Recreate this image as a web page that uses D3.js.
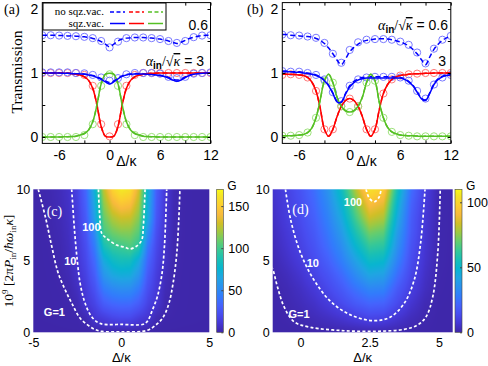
<!DOCTYPE html>
<html><head><meta charset="utf-8">
<script src="https://cdn.jsdelivr.net/npm/d3@7"></script>
<style>body{margin:0;background:#fff}svg{display:block}</style>
</head><body>
<svg id="fig" width="488" height="366"></svg>
<script>
// ---------------- DATA ----------------
const deltaLine = [-8,-7.5,-7,-6.5,-6,-5.5,-5,-4.5,-4,-3.5,-3,-2.5,-2,-1.5,-1,-0.5,0,0.5,1,1.5,2,2.5,3,3.5,4,4.5,5,5.5,6,6.5,7,7.5,8,8.5,9,9.5,10,10.5,11,11.5,12];
const deltaCirc = [-8,-7,-6,-5,-4,-3,-2,-1,0,1,2,3,4,5,6,7,8,9,10,11,12];
const xTicksAB = [-6,-3,0,3,6,9,12];
const xLabelsAB = [-6,0,6,12];
const yTicksAB = [0,0.5,1,1.5,2];
const yLabelsAB = [0,1,2];

// panel (a)
const aUpper = [1.59,1.59,1.59,1.59,1.585,1.585,1.58,1.58,1.575,1.57,1.565,1.555,1.54,1.52,1.49,1.45,1.41,1.45,1.5,1.53,1.545,1.55,1.555,1.555,1.555,1.55,1.545,1.54,1.53,1.515,1.5,1.48,1.46,1.48,1.51,1.54,1.56,1.575,1.585,1.59,1.59];
const aBlueSolid = [1,1,1,1,1,0.995,0.995,0.99,0.99,0.985,0.98,0.97,0.955,0.93,0.9,0.86,0.83,0.86,0.91,0.95,0.97,0.98,0.985,0.985,0.985,0.98,0.975,0.97,0.96,0.945,0.92,0.89,0.87,0.89,0.93,0.96,0.98,0.99,0.995,1,1];
const aBlueDashed = [1,1,1,1,1,1,0.995,0.995,0.99,0.99,0.985,0.975,0.96,0.94,0.91,0.875,0.85,0.875,0.92,0.955,0.975,0.985,0.99,0.99,0.99,0.985,0.98,0.975,0.965,0.95,0.93,0.905,0.89,0.905,0.94,0.965,0.985,0.995,1,1,1];
const aRed = [1,1,1,1,0.999,0.998,0.995,0.99,0.98,0.967,0.94,0.885,0.76,0.5,0.165,0.012,0,0.012,0.165,0.5,0.76,0.885,0.94,0.967,0.98,0.99,0.995,0.998,0.999,1,1,1,1,1,1,1,1,1,1,1,1];
const aGreen = [0,0,0,0,0,0.002,0.004,0.007,0.012,0.03,0.055,0.11,0.24,0.5,0.83,0.98,0.995,0.98,0.83,0.5,0.24,0.11,0.055,0.03,0.012,0.007,0.004,0.002,0,0,0,0,0,0,0,0,0,0,0,0,0];
const aUpperCirc = [1.59,1.59,1.585,1.58,1.575,1.565,1.545,1.5,1.4,1.49,1.545,1.555,1.555,1.545,1.53,1.5,1.47,1.5,1.56,1.585,1.59];
const aBlueCirc = [1.01,1.01,1.01,1.01,1.0,0.995,0.97,0.93,0.88,0.92,0.98,1.0,1.0,1.0,0.99,0.94,0.92,0.94,0.99,1.0,1.01];
const aRedCirc = [1,1,1,1,1,0.97,0.8,0.2,0.01,0.2,0.8,0.97,1,1,1,1,1,1,1,1,1];
const aGreenCirc = [0,0,0,0,0,0.03,0.2,0.8,0.98,0.8,0.2,0.03,0,0,0,0,0,0,0,0,0];

// panel (b)
const bUpper = [1.6,1.6,1.59,1.585,1.58,1.575,1.57,1.56,1.54,1.51,1.46,1.39,1.3,1.2,1.13,1.22,1.33,1.4,1.45,1.49,1.51,1.52,1.53,1.535,1.535,1.53,1.52,1.505,1.485,1.46,1.42,1.37,1.3,1.21,1.13,1.25,1.37,1.45,1.51,1.55,1.58];
const bBlueSolid = [1.02,1.02,1.02,1.01,1.01,1.0,0.99,0.98,0.96,0.93,0.88,0.8,0.68,0.55,0.54,0.67,0.78,0.85,0.89,0.91,0.92,0.92,0.92,0.92,0.92,0.92,0.92,0.92,0.92,0.9,0.86,0.8,0.7,0.6,0.57,0.68,0.82,0.9,0.94,0.96,0.97];
const bBlueDashed = [1.03,1.03,1.02,1.02,1.02,1.01,1.0,0.99,0.97,0.94,0.89,0.81,0.69,0.56,0.55,0.68,0.8,0.87,0.91,0.93,0.935,0.94,0.94,0.94,0.94,0.94,0.94,0.935,0.93,0.91,0.87,0.81,0.71,0.61,0.58,0.69,0.83,0.91,0.95,0.97,0.98];
const bRed = [0.98,0.98,0.98,0.975,0.97,0.96,0.93,0.86,0.72,0.45,0.12,0.01,0.12,0.32,0.48,0.57,0.6,0.57,0.48,0.32,0.12,0.01,0.12,0.42,0.68,0.82,0.9,0.94,0.96,0.97,0.98,0.985,0.99,0.99,0.995,0.995,1,1,1,1,1];
const bGreen = [0.02,0.02,0.02,0.025,0.03,0.04,0.07,0.14,0.3,0.58,0.88,0.98,0.85,0.62,0.48,0.41,0.39,0.41,0.48,0.62,0.85,0.98,0.88,0.55,0.3,0.15,0.08,0.05,0.03,0.025,0.02,0.02,0.015,0.01,0.01,0.01,0.01,0.01,0.01,0.01,0.01];
const bUpperCirc = [1.6,1.59,1.585,1.57,1.55,1.47,1.3,1.16,1.36,1.48,1.52,1.53,1.53,1.52,1.49,1.44,1.32,1.15,1.38,1.52,1.58];
const bBlueCirc = [1.03,1.02,1.02,1.0,0.97,0.9,0.7,0.56,0.8,0.9,0.93,0.94,0.94,0.94,0.93,0.88,0.72,0.6,0.82,0.93,0.97];
const bRedCirc = [0.97,0.98,0.97,0.93,0.72,0.12,0.12,0.48,0.6,0.48,0.12,0.12,0.68,0.9,0.96,0.98,0.99,1,1,1,1];
const bGreenCirc = [0.02,0.02,0.03,0.07,0.3,0.88,0.85,0.48,0.39,0.48,0.85,0.88,0.3,0.08,0.03,0.02,0.01,0.01,0.01,0.01,0.01];

// panel (c) heat map  (rows: P = 0..10, columns: delta)
const cDelta = [-5,-4.5,-4,-3.5,-3,-2.5,-2,-1.5,-1,-0.5,0,0.5,1,1.5,2,2.5,3,3.5,4,4.5,5];
const cP = [0,1,2,3,4,5,6,7,8,9,10];
const cG = [
 [0.1,0.12,0.14,0.17,0.2,0.25,0.3,0.4,0.5,0.55,0.55,0.55,0.5,0.4,0.3,0.25,0.2,0.17,0.14,0.12,0.1],
 [0.28,0.36,0.45,0.58,0.73,0.93,2.9,10.5,13.8,18,20,19.5,14,10.1,2.85,0.95,0.76,0.6,0.5,0.39,0.3],
 [0.32,0.42,0.55,0.72,0.95,3.0,10.6,17.5,29,34,36,35.5,29,17,10,2.24,0.88,0.68,0.54,0.41,0.3],
 [0.35,0.47,0.63,0.84,1.62,5.5,13.3,23.6,42,49,52,51.5,42,22.5,12,3.4,0.94,0.71,0.56,0.42,0.3],
 [0.38,0.52,0.72,1.0,2.85,8.1,16.4,30,56,66,70,69,56,28,14.1,4.6,1.0,0.74,0.55,0.41,0.3],
 [0.4,0.58,0.84,1.65,4.2,10.1,19.4,36,68,80,85,84,68,34,16.9,7.0,1.57,0.8,0.59,0.43,0.3],
 [0.42,0.63,0.92,2.1,5.0,11.3,22,44,85,96,99,103,93,42,19.5,7.9,1.73,0.81,0.6,0.43,0.3],
 [0.45,0.72,1.26,2.7,5.8,12.4,25.5,52,101,109.7,114.3,114.2,104.8,54,22.4,8.9,1.95,0.83,0.6,0.43,0.3],
 [0.5,0.85,1.63,3.3,6.6,13.6,29,63,108,122.5,129,128,114,68,26,10,2.15,0.84,0.6,0.43,0.3],
 [0.55,1.07,2.0,3.9,7.3,14.9,32,68,115.6,137.6,147.4,143.8,123,72,28,10.8,2.5,0.87,0.61,0.43,0.3],
 [0.6,1.3,2.4,4.4,8.0,16,35,74,125,153,165,160,131,75,30,11.6,2.75,0.89,0.62,0.43,0.3]
];
const cContour1 = [[-4.72,10],[-4.3,8],[-3.95,6],[-3.6,4.2],[-3.2,3],[-2.8,2],[-2.35,1],[-1.9,0.5],[-1.5,0.2],[-1.1,0.06],[0,0.04],[1.2,0.06],[1.6,0.2],[1.95,0.5],[2.35,1],[2.7,2],[2.95,3.5],[3.15,5.5],[3.27,8],[3.33,10]];
const cContour10 = [[-2.82,10],[-2.65,7],[-2.5,5],[-2.35,3.5],[-2.1,2.2],[-1.75,1.2],[-1.35,0.7],[-1.0,0.56],[0,0.55],[1.25,0.56],[1.5,0.8],[1.75,1.5],[2.05,2.5],[2.3,4],[2.45,6],[2.58,10]];
const cContour100 = [[-1.3,10],[-1.22,8],[-1.11,6.92],[-0.83,6.57],[-0.26,6.1],[0.2,5.95],[0.49,5.83],[0.87,6.03],[1.16,6.45],[1.25,7.38],[1.35,10]];
const cXTicks = [-5,0,5];
const cYTicks = [0,5,10];
const cBarTicks = [0,50,100,150];

// panel (d) heat map
const dDelta = [-1,-0.5,0,0.5,1,1.5,2,2.5,3,3.5,4,4.5,5,5.5];
const dP = [0,1,2,3,4,5,6,7,8,9,10];
const dG = [
 [0.2,0.3,0.4,0.5,0.6,0.7,0.8,0.85,0.85,0.8,0.7,0.5,0.3,0.2],
 [0.35,0.75,1.5,2.7,4.3,6.4,8.9,11.5,10.6,6.5,3.0,0.98,0.35,0.25],
 [0.45,1.2,2.8,5.0,8.5,13,18,21.5,20.5,13,6.3,2.0,0.45,0.3],
 [0.6,1.8,4.2,7.6,12.5,18,25,31,30,18,9.5,3.7,0.6,0.35],
 [0.9,3.0,6.2,10.8,16,23,33,42,40,24,12,4.8,0.7,0.38],
 [1.5,4.8,8.6,13.5,20,29,41,52,50,30,14,5.9,0.9,0.4],
 [2.5,6.3,10.5,16,24,34,49,62,60,35,16,6.6,0.95,0.42],
 [3.3,7.5,12,18,27,39,57,72,69,39,18,7.0,0.98,0.44],
 [4.2,8.8,13.5,20,30,44,65,83,79,44,19,7.6,1.03,0.46],
 [5.1,9.5,14.5,22,33,49,72,93,88,49,21,8.7,1.1,0.48],
 [6,10.3,16,24,36,54,80,104,98,55,24,10,1.23,0.5]
];
const dContour1 = [[-1.05,4.6],[-0.99,4.36],[-0.83,3.19],[-0.59,1.79],[-0.23,0.74],[0.37,0.35],[1.58,0.11],[2.79,0.07],[3.75,0.21],[4.23,0.51],[4.54,1.09],[4.78,2.49],[4.96,5.52],[5.05,10]];
const dContour10 = [[-0.54,10],[-0.35,7.85],[0.01,5.52],[0.49,3.66],[1.1,2.14],[1.82,1.21],[2.67,0.81],[3.27,1.09],[3.75,2.03],[4.11,3.66],[4.34,6.22],[4.5,10]];
const dContour100 = [[2.37,10],[2.49,9.37],[2.67,9.13],[2.85,9.48],[2.91,10]];
const dXTicks = [0,2.5,5];
const dYTicks = [0,5,10];
const dBarTicks = [0,50,100];

// ---------------- STYLE ----------------
const SANS = "'Liberation Sans', Arial, Helvetica, sans-serif";
const SERIF = "'Liberation Serif', 'Times New Roman', Times, serif";
const col = {blue:'#0000ff', red:'#ff0000', green:'#55c024'};
const ccol = {blue:'#7a7aff', red:'#ff7a7a', green:'#9ee27c'};
// parula colour map (styling)
const parulaStops = ['#3e26a8','#4537d5','#484df0','#4563fd','#327cfc','#2b91ef','#20a5e3','#08b5d0','#19bfb6','#37c897','#64cd6f','#9dc943','#d1bf27','#f8ba3d','#fccf30','#f5e327','#f9fb15'];
const parulaPos = [0,4,8,12,16,20,24,28,32,36,40,44,48,52,56,60,63].map(v=>v/63);

const svg = d3.select('#fig');
const defs = svg.append('defs');

// ---------------- LINE PANELS ----------------
function linePanel(id, x0, x1, series, circles){
  const x = d3.scaleLinear([-8,12],[x0,x1]);
  const y = d3.scaleLinear([-0.1,2.1],[143.4,2.6]);
  const g = svg.append('g');
  defs.append('clipPath').attr('id','clip'+id).append('rect')
    .attr('x',x0).attr('y',y(2.1)).attr('width',x1-x0).attr('height',y(-0.1)-y(2.1));
  const pg = g.append('g').attr('clip-path','url(#clip'+id+')');
  circles.forEach(c=>{
    pg.selectAll(null).data(c.v).join('circle')
      .attr('cx',(d,i)=>x(deltaCirc[i])).attr('cy',d=>y(d)).attr('r',3.6)
      .attr('fill','none').attr('stroke',ccol[c.c]).attr('stroke-width',1);
  });
  const line = d3.line().x((d,i)=>x(deltaLine[i])).y(d=>y(d)).curve(d3.curveCatmullRom);
  series.forEach(s=>{
    pg.append('path').attr('d',line(s.v)).attr('fill','none')
      .attr('stroke',col[s.c]).attr('stroke-width',1.5)
      .attr('stroke-dasharray',s.dash?'5,3':null);
  });
  g.append('rect').attr('x',x0).attr('y',y(2.1)).attr('width',x1-x0).attr('height',y(-0.1)-y(2.1))
    .attr('fill','none').attr('stroke','#000').attr('stroke-width',1);
  const fmtX = d=> xLabelsAB.includes(d)? (d<0?'-'+(-d):String(d)) : '';
  const axB = g.append('g').attr('transform',`translate(0,${y(-0.1)})`)
    .call(d3.axisBottom(x).tickValues(xTicksAB).tickSizeInner(-3).tickSizeOuter(0).tickPadding(6).tickFormat(fmtX));
  const axT = g.append('g').attr('transform',`translate(0,${y(2.1)})`)
    .call(d3.axisTop(x).tickValues(xTicksAB).tickSizeInner(-3).tickSizeOuter(0).tickFormat(''));
  const axL = g.append('g').attr('transform',`translate(${x0},0)`)
    .call(d3.axisLeft(y).tickValues(yTicksAB).tickSizeInner(-3).tickSizeOuter(0).tickPadding(4)
      .tickFormat(d=>yLabelsAB.includes(d)?String(d):''));
  const axR = g.append('g').attr('transform',`translate(${x1},0)`)
    .call(d3.axisRight(y).tickValues(yTicksAB).tickSizeInner(-3).tickSizeOuter(0).tickFormat(''));
  [axB,axT,axL,axR].forEach(a=>{a.select('.domain').remove(); a.selectAll('line').attr('stroke','#000');
    a.selectAll('text').attr('font-family',SANS).attr('font-size',14).attr('fill','#000');});
  axB.selectAll('text').attr('dy','0.75em');
  g.append('text').attr('x',(x0+x1)/2).attr('y',166).attr('text-anchor','middle')
    .attr('font-family',SANS).attr('font-size',14).text('Δ/κ');
  return {x,y,g};
}

linePanel('a', 42.3, 210.5,
  [{v:aUpper,c:'blue',dash:true},{v:aRed,c:'red',dash:true},{v:aGreen,c:'green',dash:true},{v:aBlueDashed,c:'blue',dash:true},
   {v:aRed,c:'red'},{v:aGreen,c:'green'},{v:aBlueSolid,c:'blue'}],
  [{v:aUpperCirc,c:'blue'},{v:aRedCirc,c:'red'},{v:aGreenCirc,c:'green'},{v:aBlueCirc,c:'blue'}]);
linePanel('b', 282.3, 450.8,
  [{v:bUpper,c:'blue',dash:true},{v:bRed,c:'red',dash:true},{v:bGreen,c:'green',dash:true},{v:bBlueDashed,c:'blue',dash:true},
   {v:bRed,c:'red'},{v:bGreen,c:'green'},{v:bBlueSolid,c:'blue'}],
  [{v:bUpperCirc,c:'blue'},{v:bRedCirc,c:'red'},{v:bGreenCirc,c:'green'},{v:bBlueCirc,c:'blue'}]);

svg.append('text').attr('transform','translate(22,72) rotate(-90)').attr('text-anchor','middle')
  .attr('font-family',SERIF).attr('font-size',15.5).text('Transmission');
svg.append('text').attr('x',4).attr('y',14).attr('font-family',SERIF).attr('font-size',14).text('(a)');
svg.append('text').attr('x',247).attr('y',14).attr('font-family',SERIF).attr('font-size',14).text('(b)');

// legend in (a)
{
  const lg = svg.append('g');
  lg.append('rect').attr('x',43).attr('y',3).attr('width',123).attr('height',27)
    .attr('fill','#fff').attr('stroke','#000').attr('stroke-width',1);
  lg.append('text').attr('x',104).attr('y',14.5).attr('text-anchor','end').attr('font-family',SERIF).attr('font-size',11).text('no sqz.vac.');
  lg.append('text').attr('x',104).attr('y',26.5).attr('text-anchor','end').attr('font-family',SERIF).attr('font-size',11).text('sqz.vac.');
  const segs = [[110,125,'blue'],[129,144,'red'],[148,163,'green']];
  segs.forEach(s=>{
    lg.append('line').attr('x1',s[0]).attr('x2',s[1]).attr('y1',12).attr('y2',12).attr('stroke',col[s[2]]).attr('stroke-width',1.5).attr('stroke-dasharray','4,2.5');
    lg.append('line').attr('x1',s[0]).attr('x2',s[1]).attr('y1',23.5).attr('y2',23.5).attr('stroke',col[s[2]]).attr('stroke-width',1.5);
  });
}

function alphaLabel(xEnd, yb, val){
  const t = svg.append('text').attr('x',xEnd).attr('y',yb).attr('text-anchor','end').attr('font-size',14).attr('font-family',SERIF);
  t.append('tspan').attr('font-style','italic').text('α');
  t.append('tspan').attr('font-family',SANS).attr('font-size',10).attr('font-weight','bold').attr('dy',3).text('in');
  t.append('tspan').attr('dy',-3).text('/√');
  t.append('tspan').attr('font-style','italic').attr('text-decoration','overline').text('κ');
  t.append('tspan').attr('font-family',SANS).text('  = '+val);
}
alphaLabel(204, 66, '3');
svg.append('text').attr('x',208).attr('y',30).attr('text-anchor','end').attr('font-family',SANS).attr('font-size',14).text('0.6');
alphaLabel(448, 30, '0.6');
svg.append('text').attr('x',446).attr('y',66).attr('text-anchor','end').attr('font-family',SANS).attr('font-size',14).text('3');

// ---------------- HEAT PANELS ----------------
const cmap = d3.scaleLinear().domain(parulaPos).range(parulaStops).interpolate(d3.interpolateRgb).clamp(true);

function sampleGrid(xs, ys, grid, X, Y){
  let i = Math.max(0, Math.min(xs.length-2, d3.bisectRight(xs, X)-1));
  let j = Math.max(0, Math.min(ys.length-2, d3.bisectRight(ys, Y)-1));
  const tx = Math.max(0,Math.min(1,(X-xs[i])/(xs[i+1]-xs[i])));
  const ty = Math.max(0,Math.min(1,(Y-ys[j])/(ys[j+1]-ys[j])));
  const a = grid[j][i], b = grid[j][i+1], c = grid[j+1][i], d = grid[j+1][i+1];
  return (a*(1-tx)+b*tx)*(1-ty) + (c*(1-tx)+d*tx)*ty;
}

function heatPanel(id, o){
  const x = d3.scaleLinear(o.xd,[o.x0,o.x1]);
  const y = d3.scaleLinear([0,10],[o.yb,o.yt]);
  const w = Math.round(o.x1-o.x0), h = Math.round(o.yb-o.yt);
  const cv = document.createElement('canvas'); cv.width=w; cv.height=h;
  const ctx = cv.getContext('2d'); const img = ctx.createImageData(w,h);
  for(let j=0;j<h;j++){
    const P = y.invert(o.yt + (j+0.5)*(o.yb-o.yt)/h);
    for(let i=0;i<w;i++){
      const D = x.invert(o.x0 + (i+0.5)*(o.x1-o.x0)/w);
      const v = sampleGrid(o.xs, o.ys, o.grid, D, P);
      const c = d3.rgb(cmap(v/o.vmax));
      const k = (j*w+i)*4; img.data[k]=c.r; img.data[k+1]=c.g; img.data[k+2]=c.b; img.data[k+3]=255;
    }
  }
  ctx.putImageData(img,0,0);
  const g = svg.append('g');
  g.append('image').attr('href',cv.toDataURL()).attr('x',o.x0).attr('y',o.yt).attr('width',o.x1-o.x0).attr('height',o.yb-o.yt).attr('preserveAspectRatio','none');
  defs.append('clipPath').attr('id','clip'+id).append('rect').attr('x',o.x0).attr('y',o.yt).attr('width',o.x1-o.x0).attr('height',o.yb-o.yt);
  const cg = g.append('g').attr('clip-path','url(#clip'+id+')');
  const line = d3.line().x(d=>x(d[0])).y(d=>y(d[1])).curve(d3.curveCatmullRom);
  o.contours.forEach(c=>{
    cg.append('path').attr('d',line(c)).attr('fill','none').attr('stroke','#fff').attr('stroke-width',1.7).attr('stroke-dasharray','3,2.2');
  });
  const axB = g.append('g').attr('transform',`translate(0,${o.yb})`)
    .call(d3.axisBottom(x).tickValues(o.xt).tickSize(0).tickPadding(5).tickFormat(d=>d<0?'-'+(-d):String(d)));
  const axL = g.append('g').attr('transform',`translate(${o.x0},0)`)
    .call(d3.axisLeft(y).tickValues(o.yt2).tickSize(0).tickPadding(3));
  [axB,axL].forEach(a=>{a.select('.domain').remove();a.selectAll('text').attr('font-family',SANS).attr('font-size',12.5).attr('fill','#000');});
  axB.selectAll('text').attr('dy','0.75em');
  g.append('text').attr('x',(o.x0+o.x1)/2).attr('y',362).attr('text-anchor','middle').attr('font-family',SANS).attr('font-size',13).text('Δ/κ');
  const gid = 'grad'+id;
  const lgd = defs.append('linearGradient').attr('id',gid).attr('x1',0).attr('x2',0).attr('y1',1).attr('y2',0);
  parulaPos.forEach((t,i)=>lgd.append('stop').attr('offset',t).attr('stop-color',parulaStops[i]));
  const cb = d3.scaleLinear([0,o.vmax],[o.yb,o.yt]);
  g.append('rect').attr('x',o.cb0).attr('y',o.yt).attr('width',o.cb1-o.cb0).attr('height',o.yb-o.yt).attr('fill',`url(#${gid})`).attr('stroke','#444').attr('stroke-width',0.6);
  const axC = g.append('g').attr('transform',`translate(${o.cb1},0)`)
    .call(d3.axisRight(cb).tickValues(o.bt).tickSizeInner(-2).tickSizeOuter(0).tickPadding(5));
  axC.select('.domain').remove(); axC.selectAll('line').attr('stroke','#444');
  axC.selectAll('text').attr('font-family',SANS).attr('font-size',12.5).attr('fill','#000');
  g.append('text').attr('x',o.cb1+4).attr('y',o.yt+1).attr('font-family',SANS).attr('font-size',12).text('G');
  o.labels.forEach(l=>{
    g.append('text').attr('x',x(l[0])).attr('y',y(l[1])).attr('text-anchor','middle').attr('font-family',SANS)
      .attr('font-size',11).attr('font-weight','bold').attr('fill','#fff').text(l[2]);
  });
  g.append('text').attr('x',x(o.letter[0])).attr('y',y(o.letter[1])).attr('text-anchor','middle').attr('font-family',SERIF)
    .attr('font-size',14).attr('fill','#fff').text(o.letter[2]);
  return {x,y};
}

heatPanel('c', {x0:33.3,x1:209.3,yt:189.3,yb:332.3,xd:[-5,5],xs:cDelta,ys:cP,grid:cG,vmax:170,
  contours:[cContour1,cContour10,cContour100], xt:cXTicks, yt2:cYTicks, cb0:216.7, cb1:223.3, bt:cBarTicks,
  labels:[[-1.7,7.1,'100'],[-2.9,4.7,'10'],[-3.8,1.15,'G=1']], letter:[-3.8,8.1,'(c)']});
heatPanel('d', {x0:272.7,x1:452.7,yt:189.3,yb:332.3,xd:[-1,5.5],xs:dDelta,ys:dP,grid:dG,vmax:110,
  contours:[dContour1,dContour10,dContour100], xt:dXTicks, yt2:dYTicks, cb0:455, cb1:462, bt:dBarTicks,
  labels:[[1.9,8.8,'100'],[0.45,4.6,'10'],[-0.05,1.0,'G=1']], letter:[0.0,8.3,'(d)']});

{
  const t = svg.append('text').attr('transform','translate(13,261) rotate(-90)').attr('text-anchor','middle')
    .attr('font-family',SERIF).attr('font-size',13.5);
  t.append('tspan').text('10');
  t.append('tspan').attr('font-size',9).attr('dy',-5).text('9');
  t.append('tspan').attr('dy',5).text(' [2π');
  t.append('tspan').attr('font-style','italic').text('P');
  t.append('tspan').attr('font-size',9).attr('dy',3).text('in');
  t.append('tspan').attr('dy',-3).text('/');
  t.append('tspan').attr('font-style','italic').text('ħω');
  t.append('tspan').attr('font-size',9).attr('dy',3).text('in');
  t.append('tspan').attr('dy',-3).attr('font-style','italic').text('κ');
  t.append('tspan').text(']');
}
</script>
</body></html>
